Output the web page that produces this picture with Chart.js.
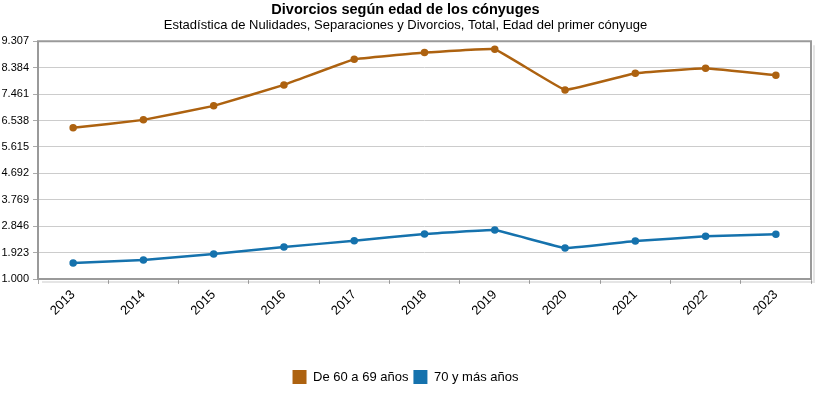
<!DOCTYPE html>
<html lang="es">
<head>
<meta charset="utf-8">
<title>Divorcios según edad de los cónyuges</title>
<script src="https://cdn.jsdelivr.net/npm/chart.js@4/dist/chart.umd.min.js"></script>
<style>
    html, body { margin: 0; padding: 0; background: #fff; }
    #wrap { position: relative; width: 821px; height: 399px; }
</style>
</head>
<body>
<div id="wrap"><canvas id="divorciosChart"></canvas></div>
<script>
    "use strict";

    var years = ["2013", "2014", "2015", "2016", "2017", "2018", "2019", "2020", "2021", "2022", "2023"];
    var de60a69 = [6281, 6560, 7049, 7782, 8679, 8913, 9028, 7607, 8190, 8365, 8120];
    var de70yMas = [1558, 1663, 1873, 2117, 2337, 2571, 2710, 2082, 2326, 2490, 2560];
    var yMin = 1000;
    var yMax = 9307;
    var yStep = 923;

    var ORANGE = "#ad6210";
    var BLUE = "#1572ad";
    var FONT = "'Liberation Sans', Arial, sans-serif";

    function formatMiles(v) {
        return String(Math.round(v)).replace(/\B(?=(\d{3})+(?!\d))/g, ".");
    }

    // marco gris con sombra (solo derecha y abajo) alrededor del área del gráfico
    var plotFrame = {
        id: "plotFrame",
        afterDatasetsDraw: function(chart) {
            var a = chart.chartArea;
            var ctx = chart.ctx;
            ctx.save();
            ctx.strokeStyle = "rgba(0,0,0,0.10)";
            ctx.lineWidth = 2;
            ctx.beginPath();
            ctx.moveTo(a.right + 3, a.top + 4);
            ctx.lineTo(a.right + 3, a.bottom + 3);
            ctx.lineTo(a.left + 4, a.bottom + 3);
            ctx.stroke();
            ctx.strokeStyle = "#9a9a9a";
            ctx.lineWidth = 2;
            ctx.strokeRect(a.left, a.top, a.right - a.left, a.bottom - a.top);
            ctx.restore();
        }
    };

    new Chart(document.getElementById("divorciosChart"), {
        type: "line",
        data: {
            labels: years,
            datasets: [{
                    label: "De 60 a 69 años",
                    data: de60a69,
                    borderColor: ORANGE,
                    backgroundColor: ORANGE,
                    borderWidth: 2.5,
                    pointRadius: 2.5,
                    pointBackgroundColor: ORANGE,
                    pointBorderColor: ORANGE,
                    tension: 0.06,
                    fill: false
                },
                {
                    label: "70 y más años",
                    data: de70yMas,
                    borderColor: BLUE,
                    backgroundColor: BLUE,
                    borderWidth: 2.5,
                    pointRadius: 2.5,
                    pointBackgroundColor: BLUE,
                    pointBorderColor: BLUE,
                    tension: 0.06,
                    fill: false
                }
            ]
        },
        options: {
            responsive: true,
            maintainAspectRatio: false,
            animation: false,
            layout: {
                padding: { left: 0, right: 10, top: 0, bottom: 5 }
            },
            plugins: {
                title: {
                    display: true,
                    text: "Divorcios según edad de los cónyuges",
                    color: "#000",
                    font: { family: FONT, size: 14.5, weight: "bold", lineHeight: 1.1 },
                    padding: { top: 2, bottom: 0 }
                },
                subtitle: {
                    display: true,
                    text: "Estadística de Nulidades, Separaciones y Divorcios, Total, Edad del primer cónyuge",
                    color: "#000",
                    font: { family: FONT, size: 13, lineHeight: 1.1 },
                    padding: { top: 0, bottom: 9 }
                },
                legend: {
                    position: "bottom",
                    labels: {
                        boxWidth: 14,
                        boxHeight: 14,
                        padding: 5,
                        color: "#000",
                        font: { family: FONT, size: 13 },
                        generateLabels: function(chart) {
                            return chart.data.datasets.map(function(ds, i) {
                                return {
                                    text: ds.label,
                                    fillStyle: ds.borderColor,
                                    strokeStyle: ds.borderColor,
                                    lineWidth: 0,
                                    fontColor: "#000",
                                    datasetIndex: i
                                };
                            });
                        }
                    }
                },
                tooltip: { enabled: false }
            },
            scales: {
                x: {
                    offset: true,
                    afterFit: function(scale) { scale.height = 86; },
                    grid: {
                        drawOnChartArea: false,
                        drawTicks: true,
                        tickLength: 5,
                        color: "#aaa",
                        offset: true
                    },
                    border: { display: false },
                    ticks: {
                        minRotation: 45,
                        maxRotation: 45,
                        padding: 3,
                        color: "#000",
                        font: { family: FONT, size: 13 }
                    }
                },
                y: {
                    min: yMin,
                    max: yMax,
                    afterFit: function(scale) { scale.width = 38; },
                    afterBuildTicks: function(scale) {
                        var t = [];
                        for (var v = yMin; v <= yMax; v += yStep) {
                            t.push({ value: v });
                        }
                        scale.ticks = t;
                    },
                    grid: {
                        color: "#cccccc",
                        tickLength: 5,
                        tickColor: "#aaa"
                    },
                    border: { display: false },
                    ticks: {
                        padding: 4,
                        color: "#000",
                        font: { family: FONT, size: 11 },
                        callback: function(v) { return formatMiles(v); }
                    }
                }
            }
        },
        plugins: [plotFrame]
    });
</script>
</body>
</html>
